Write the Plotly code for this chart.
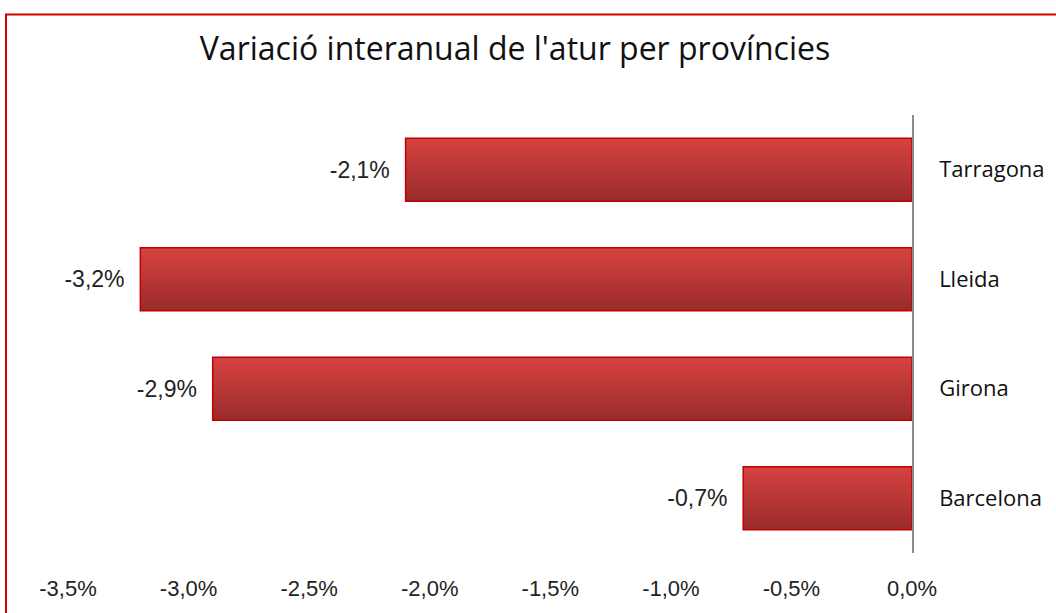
import plotly.graph_objects as go

# ---- data ----
provinces = ["Barcelona", "Girona", "Lleida", "Tarragona"]
variation = [-0.7, -2.9, -3.2, -2.1]          # percent
value_labels = ["-0,7%", "-2,9%", "-3,2%", "-2,1%"]
tick_values = [-3.5, -3.0, -2.5, -2.0, -1.5, -1.0, -0.5, 0.0]
tick_labels = ["-3,5%", "-3,0%", "-2,5%", "-2,0%", "-1,5%", "-1,0%", "-0,5%", "0,0%"]
title_text = "Variació interanual de l'atur per províncies"

W, H = 1056, 613
ML, MR, MT, MB = 68, 144, 115, 60
PW, PH = W - ML - MR, H - MT - MB

fig = go.Figure()

# gradient bars: stacked layers, each drawn from the bar bottom upwards,
# lightest (full height) first, darker & shorter layers on top
bar_w = 0.575
n_layers = 16
top_c = (212, 66, 64)
bot_c = (156, 44, 44)
sw = bar_w / n_layers
for i in range(n_layers):
    t = i / (n_layers - 1)
    c = tuple(round(top_c[k] + (bot_c[k] - top_c[k]) * t) for k in range(3))
    h = (n_layers - i) * sw
    fig.add_trace(go.Bar(
        x=variation, y=provinces, orientation="h",
        width=[h] * len(provinces), offset=[-bar_w / 2] * len(provinces),
        marker=dict(color="rgb(%d,%d,%d)" % c, line=dict(width=0)),
        hoverinfo="skip", showlegend=False,
    ))

# outline + value labels
fig.add_trace(go.Bar(
    x=variation, y=provinces, orientation="h",
    width=[bar_w] * len(provinces), offset=[-bar_w / 2] * len(provinces),
    marker=dict(color="rgba(0,0,0,0)", line=dict(color="#c00000", width=1.5)),
    text=value_labels, texttemplate="%{text}\u00a0\u00a0", textposition="outside",
    textfont=dict(family="Liberation Sans, Arial, sans-serif", size=23, color="#222222"),
    cliponaxis=False, showlegend=False,
))

def px_to_paper_x(p):
    return (p - ML) / PW

def px_to_paper_y(p):
    return (H - MB - p) / PH

fig.update_layout(
    width=W, height=H,
    margin=dict(l=ML, r=MR, t=MT, b=MB),
    paper_bgcolor="white", plot_bgcolor="white",
    barmode="overlay",
    title=dict(text=title_text, x=px_to_paper_x(515), xref="paper", xanchor="center",
               y=1 - 49 / H, yanchor="middle",
               font=dict(family="Open Sans, sans-serif", size=32, color="#111111")),
    xaxis=dict(range=[-3.5, 0], tickvals=tick_values, ticktext=tick_labels,
               showgrid=False, zeroline=False, showline=False, ticks="",
               ticklabelstandoff=20,
               tickfont=dict(family="Liberation Sans, Arial, sans-serif", size=22, color="#222222")),
    yaxis=dict(side="right", showgrid=False, zeroline=False,
               showline=True, linecolor="#8c8c8c", linewidth=1.5, ticks="",
               ticklabelstandoff=21,
               tickfont=dict(family="Open Sans, sans-serif", size=22, color="#111111"),
               categoryorder="array", categoryarray=provinces),
    shapes=[dict(type="rect", xref="paper", yref="paper",
                 x0=px_to_paper_x(6), x1=px_to_paper_x(1070),
                 y0=px_to_paper_y(630), y1=px_to_paper_y(14.5),
                 line=dict(color="#d40000", width=2), fillcolor="rgba(0,0,0,0)",
                 layer="below")],
)

fig.write_html("out.html", config={"displayModeBar": False},
               post_script="document.body.style.margin='0';")
